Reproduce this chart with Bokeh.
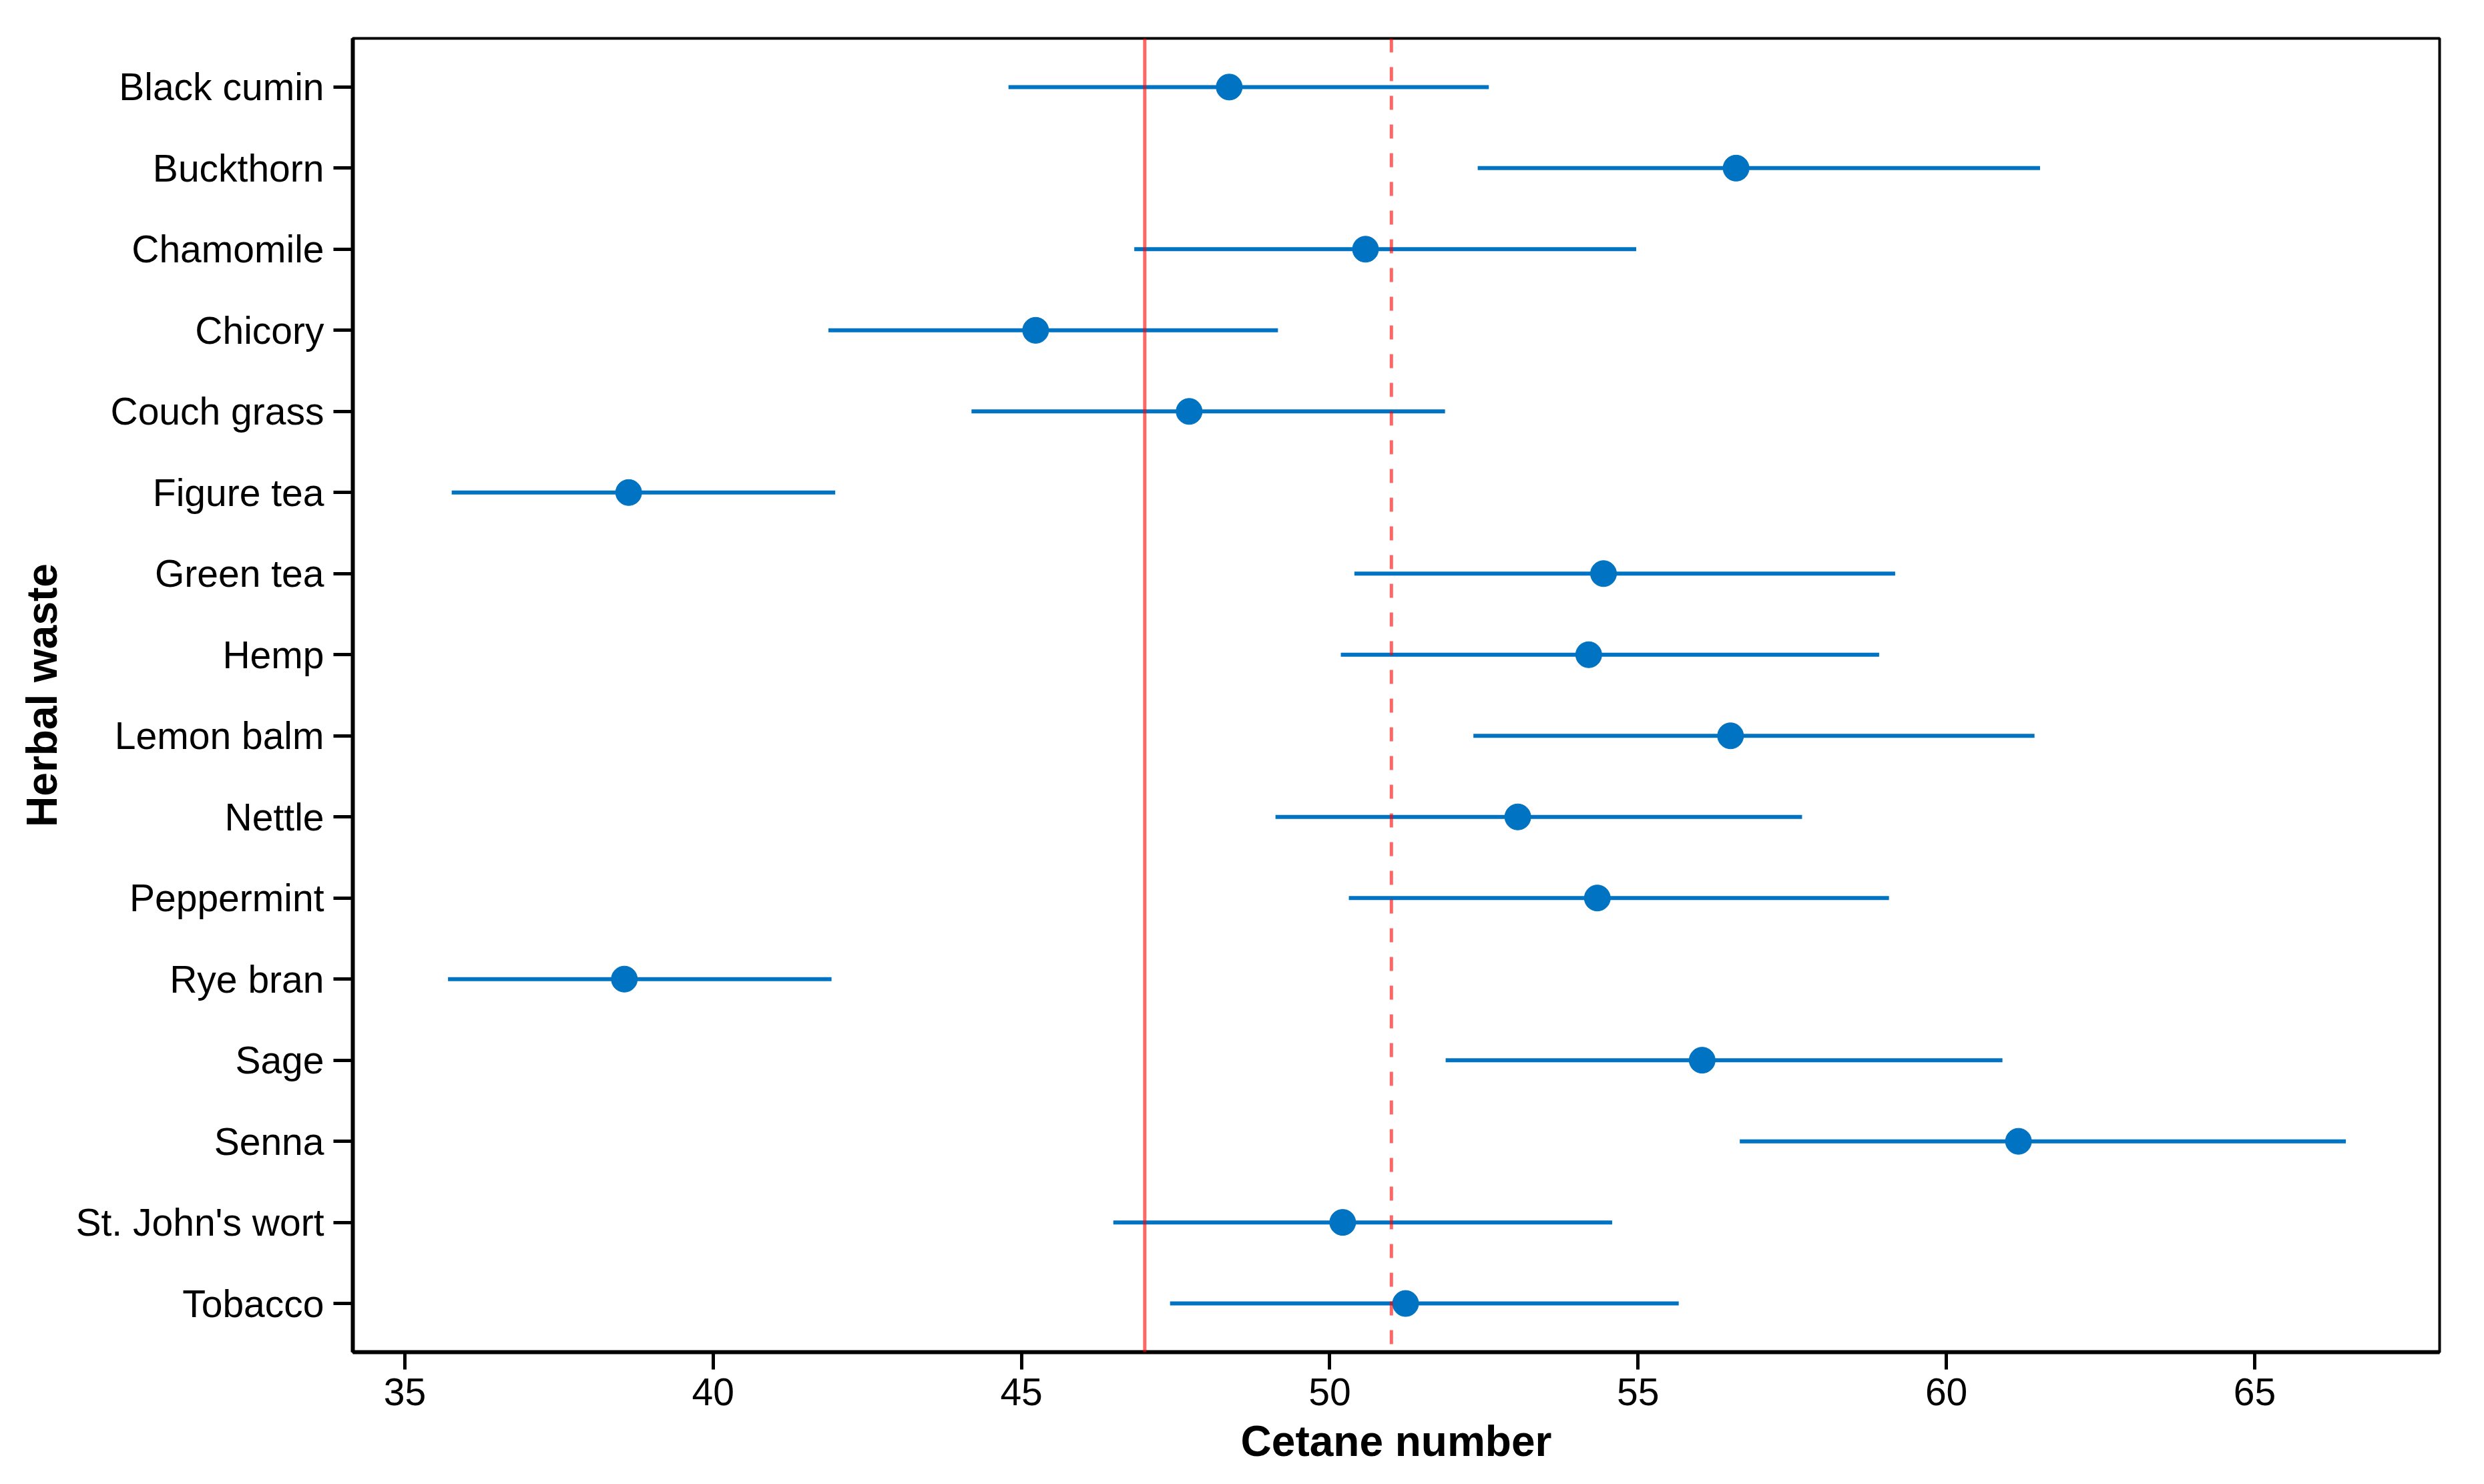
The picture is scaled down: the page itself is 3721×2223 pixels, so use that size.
from bokeh.plotting import figure
from bokeh.models import Range1d, FixedTicker, Span, ColumnDataSource
from bokeh.embed import file_html
from bokeh.resources import INLINE

# ---- data ----
categories = ["Black cumin", "Buckthorn", "Chamomile", "Chicory", "Couch grass",
              "Figure tea", "Green tea", "Hemp", "Lemon balm", "Nettle",
              "Peppermint", "Rye bran", "Sage", "Senna", "St. John's wort", "Tobacco"]
estimate = [48.37, 56.59, 50.58, 45.23, 47.72, 38.63, 54.44, 54.20,
            56.50, 53.05, 54.34, 38.56, 56.04, 61.17, 50.21, 51.23]
lower = [44.79, 52.40, 46.83, 41.87, 44.19, 35.76, 50.40, 50.18,
         52.33, 49.12, 50.31, 35.70, 51.88, 56.65, 46.49, 47.41]
upper = [52.58, 61.52, 54.97, 49.16, 51.87, 41.98, 59.17, 58.91,
         61.43, 57.66, 59.07, 41.92, 60.91, 66.48, 54.58, 55.66]
x_ticks = [35, 40, 45, 50, 55, 60, 65]
reference_solid = 47
reference_dashed = 51

positions = list(range(1, len(categories) + 1))

BLUE = "#0073C2"
FONT = "Liberation Sans"

src = ColumnDataSource(dict(y=positions, est=estimate, lo=lower, hi=upper, name=categories))

p = figure(width=3711, height=2221, output_backend="svg", toolbar_location=None,
           x_range=Range1d(34.156, 68.0), y_range=Range1d(16.6, 0.4),
           min_border_left=528, min_border_right=57, min_border_top=57, min_border_bottom=196)

p.segment(x0="lo", y0="y", x1="hi", y1="y", source=src, line_color=BLUE, line_width=6, line_cap="butt")
p.scatter(x="est", y="y", source=src, size=39, fill_color=BLUE, line_color=BLUE, line_width=1)

p.add_layout(Span(location=reference_solid, dimension="height", line_color="red", line_alpha=0.6, line_width=5))
p.add_layout(Span(location=reference_dashed, dimension="height", line_color="red", line_alpha=0.6,
                  line_width=5, line_dash="21 22"))

p.xgrid.visible = False
p.ygrid.visible = False
p.background_fill_color = "white"
p.border_fill_color = "white"
p.outline_line_color = "black"
p.outline_line_width = 4
p.outline_line_alpha = 1.0

# x axis
xa = p.xaxis[0]
xa.ticker = FixedTicker(ticks=x_ticks)
xa.axis_label = "Cetane number"
xa.axis_label_text_font = FONT
xa.axis_label_text_font_style = "bold"
xa.axis_label_text_font_size = "64px"
xa.axis_label_text_color = "black"
xa.axis_label_standoff = 15
xa.major_label_text_font = FONT
xa.major_label_text_font_size = "57px"
xa.major_label_text_color = "black"
xa.major_label_standoff = 13
xa.axis_line_width = 6
xa.axis_line_color = "black"
xa.major_tick_line_width = 5
xa.major_tick_line_color = "black"
xa.major_tick_out = 26
xa.major_tick_in = 0
xa.minor_tick_line_color = None

# y axis
ya = p.yaxis[0]
ya.ticker = FixedTicker(ticks=positions)
ya.major_label_overrides = {pos: name for pos, name in zip(positions, categories)}
ya.axis_label = "Herbal waste"
ya.axis_label_text_font = FONT
ya.axis_label_text_font_style = "bold"
ya.axis_label_text_font_size = "64px"
ya.axis_label_text_color = "black"
ya.axis_label_standoff = 11
ya.major_label_text_font = FONT
ya.major_label_text_font_size = "57px"
ya.major_label_text_color = "black"
ya.major_label_standoff = 14
ya.axis_line_width = 6
ya.axis_line_color = "black"
ya.major_tick_line_width = 5
ya.major_tick_line_color = "black"
ya.major_tick_out = 29
ya.major_tick_in = 0
ya.minor_tick_line_color = None

open("out.html", "w").write(file_html(p, INLINE))
